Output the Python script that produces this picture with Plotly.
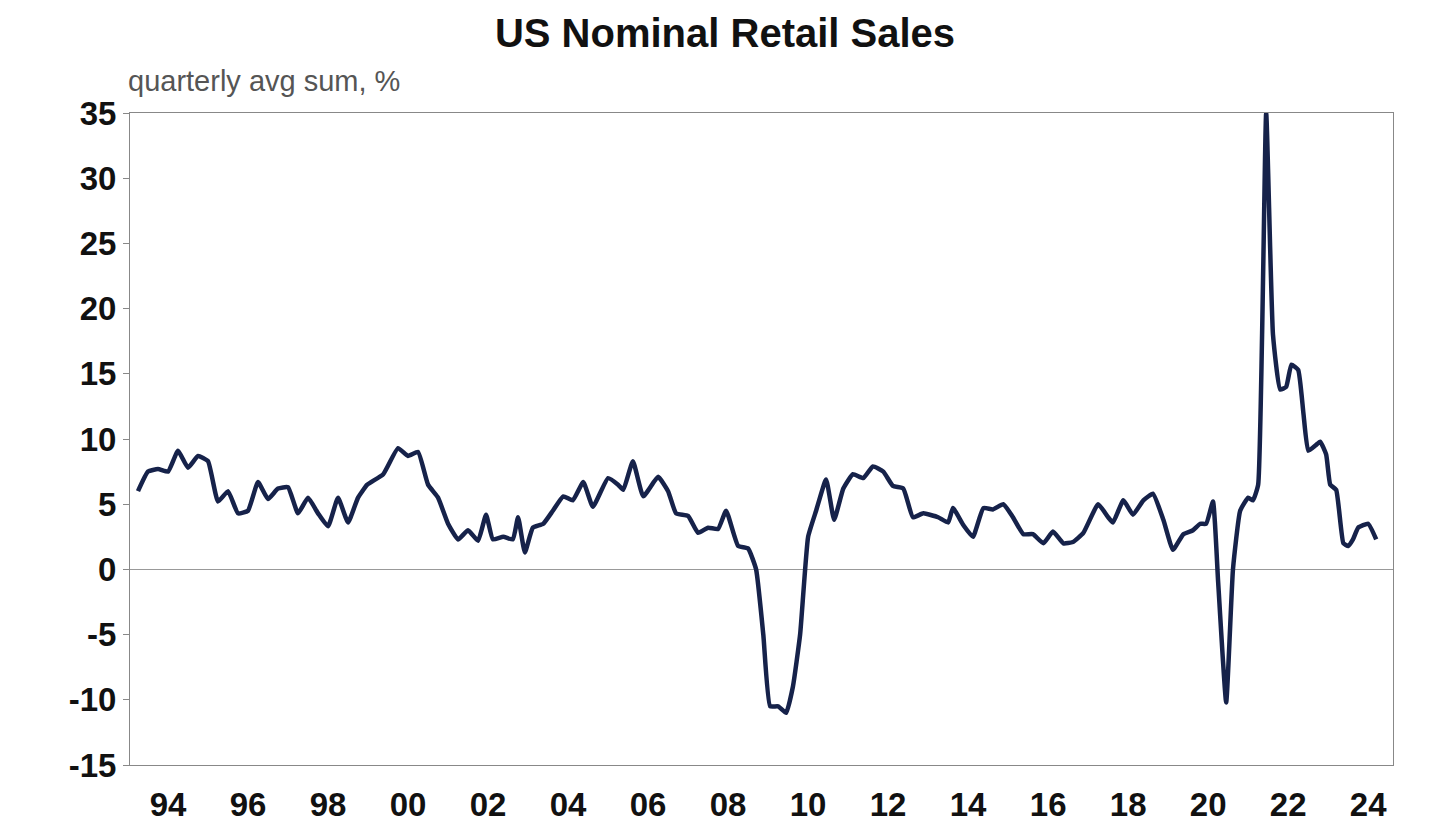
import plotly.graph_objects as go

# decimal years and quarterly avg sum growth, %
years = [1993.25, 1993.5, 1993.75, 1994.0, 1994.25, 1994.5, 1994.75, 1995.0, 1995.25, 1995.5,
         1995.75, 1996.0, 1996.25, 1996.5, 1996.75, 1997.0, 1997.25, 1997.5, 1997.75, 1998.0,
         1998.25, 1998.5, 1998.75,
         1998.98, 1999.38, 1999.75, 2000.0, 2000.25, 2000.5, 2000.75, 2001.0, 2001.25, 2001.5,
         2001.75, 2001.95, 2002.12, 2002.38, 2002.62, 2002.75, 2002.92, 2003.12, 2003.38, 2003.62,
         2003.88, 2004.12, 2004.38, 2004.62, 2005.0, 2005.25, 2005.38, 2005.62, 2005.88, 2006.25,
         2006.5, 2006.7, 2007.0, 2007.25, 2007.5, 2007.75, 2007.95, 2008.25, 2008.5, 2008.7,
         2008.88, 2009.05, 2009.25, 2009.45, 2009.62, 2009.8, 2010.0, 2010.2, 2010.45, 2010.65,
         2010.88, 2011.12, 2011.38, 2011.62, 2011.88, 2012.12, 2012.38, 2012.62, 2012.88, 2013.25,
         2013.5, 2013.62, 2013.88, 2014.12, 2014.38, 2014.62, 2014.88, 2015.12, 2015.38, 2015.62,
         2015.88, 2016.12, 2016.38, 2016.62, 2016.88, 2017.25, 2017.5, 2017.62, 2017.88, 2018.12,
         2018.38, 2018.62, 2018.88, 2019.12, 2019.38, 2019.62, 2019.8, 2019.95, 2020.12, 2020.25,
         2020.45, 2020.62, 2020.8, 2021.0, 2021.12, 2021.25, 2021.45, 2021.62, 2021.8, 2021.95,
         2022.08, 2022.25, 2022.38, 2022.5, 2022.68, 2022.8, 2022.95, 2023.05, 2023.2, 2023.38,
         2023.5, 2023.62, 2023.75, 2024.0, 2024.2]
sales = [6.0, 7.5, 7.7, 7.5, 9.1, 7.8, 8.7, 8.3, 5.2, 6.0,
         4.3, 4.5, 6.7, 5.4, 6.2, 6.3, 4.3, 5.5, 4.3, 3.3,
         5.5, 3.6, 5.5,
         6.5, 7.3, 9.3, 8.7, 9.0, 6.5, 5.5, 3.5, 2.3, 3.0,
         2.2, 4.2, 2.3, 2.5, 2.3, 4.0, 1.3, 3.2, 3.5, 4.5,
         5.6, 5.3, 6.7, 4.8, 7.0, 6.5, 6.1, 8.3, 5.6, 7.1,
         6.0, 4.3, 4.1, 2.8, 3.2, 3.1, 4.5, 1.8, 1.6, 0.0,
         -5.0, -10.5, -10.5, -11.0, -9.0, -5.0, 2.5, 4.5, 6.9, 3.8,
         6.2, 7.3, 7.0, 7.9, 7.5, 6.4, 6.2, 4.0, 4.3, 4.0,
         3.6, 4.7, 3.4, 2.5, 4.7, 4.6, 5.0, 4.0, 2.7, 2.7,
         2.0, 2.9, 2.0, 2.1, 2.8, 5.0, 4.0, 3.6, 5.3, 4.2,
         5.3, 5.8, 3.8, 1.5, 2.7, 3.0, 3.5, 3.5, 5.2, -1.0,
         -10.2, 0.0, 4.5, 5.5, 5.3, 6.5, 35.0, 18.0, 13.8, 14.0,
         15.7, 15.3, 12.0, 9.1, 9.5, 9.8, 8.8, 6.5, 6.1, 2.0,
         1.8, 2.3, 3.2, 3.5, 2.3]

tick_years = list(range(1994, 2025, 2))
tick_labels = [f"{y % 100:02d}" for y in tick_years]
y_ticks = list(range(-15, 36, 5))
y_labels = [str(v) for v in y_ticks]

fig = go.Figure(go.Scatter(x=years, y=sales, mode="lines",
                           line=dict(color="#16224a", width=4.5, shape="spline", smoothing=0.4)))

fig.update_layout(
    width=1434, height=830,
    margin=dict(l=122, r=49, t=105, b=73, autoexpand=False),
    paper_bgcolor="white", plot_bgcolor="white",
    showlegend=False,
    font=dict(family="Liberation Sans, Arial, sans-serif", color="#111111"),
    title=dict(text="<b>US Nominal Retail Sales</b>", x=0.5, xanchor="center",
               y=0.97, yanchor="middle", font=dict(size=40, color="#111111")),
    annotations=[dict(text="quarterly avg sum, %", xref="paper", yref="paper",
                      x=-0.003, y=1.0, xanchor="left", yanchor="bottom", yshift=14,
                      showarrow=False, font=dict(size=29, color="#555555"))],
)
fig.update_xaxes(range=[1993.05, 2024.62], tickvals=tick_years, ticktext=tick_labels,
                 tickfont=dict(size=33, color="#111111", weight="bold"), automargin=False,
                 showgrid=False, zeroline=False, showline=True, mirror=True,
                 linecolor="#888888", linewidth=1, ticks="", ticklabelstandoff=10)
fig.update_yaxes(range=[-15, 35], tickvals=y_ticks, ticktext=y_labels, automargin=False,
                 tickfont=dict(size=33, color="#111111", weight="bold"),
                 showgrid=False, zeroline=True, zerolinecolor="#999999", zerolinewidth=1,
                 showline=True, mirror=True, linecolor="#888888", linewidth=1,
                 ticks="outside", ticklen=6, tickcolor="#888888")

fig.write_html("out.html")
